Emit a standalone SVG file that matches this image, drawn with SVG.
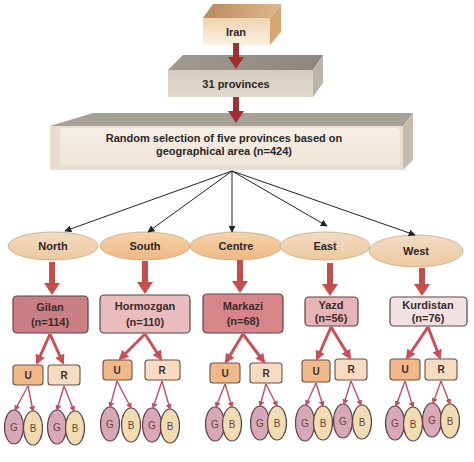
<svg xmlns="http://www.w3.org/2000/svg" xmlns:xlink="http://www.w3.org/1999/xlink" width="474" height="462" viewBox="0 0 474 462">
<defs>
<linearGradient id="gIranF" x1="0" y1="0" x2="0" y2="1"><stop offset="0" stop-color="#f0d4b0"/><stop offset="1" stop-color="#fbf1e4"/></linearGradient>
<linearGradient id="gIranT" x1="0" y1="0" x2="1" y2="0"><stop offset="0" stop-color="#b88a5e"/><stop offset="1" stop-color="#e0b88c"/></linearGradient>
<linearGradient id="gProvF" x1="0" y1="0" x2="0" y2="1"><stop offset="0" stop-color="#d6cdc0"/><stop offset="1" stop-color="#e2dace"/></linearGradient>
<linearGradient id="gProvT" x1="0" y1="0" x2="1" y2="0"><stop offset="0" stop-color="#a29a90"/><stop offset="1" stop-color="#8e867c"/></linearGradient>
<linearGradient id="gRandF" x1="0" y1="0" x2="0" y2="1"><stop offset="0" stop-color="#f6efe6"/><stop offset="1" stop-color="#efe5d8"/></linearGradient>
<linearGradient id="gEll" x1="0" y1="0" x2="0" y2="1"><stop offset="0" stop-color="#f6d2aa"/><stop offset="1" stop-color="#eeb884"/></linearGradient>
<linearGradient id="gEllL" x1="0" y1="0" x2="0" y2="1"><stop offset="0" stop-color="#f4dcc2"/><stop offset="1" stop-color="#ecc8a0"/></linearGradient>
<marker id="mBlack" viewBox="0 0 10 10" refX="9" refY="5" markerWidth="7" markerHeight="7" orient="auto" markerUnits="userSpaceOnUse"><path d="M0,0 L10,5 L0,10 Z" fill="#222"/></marker>
<marker id="mRed" viewBox="0 0 10 10" refX="8" refY="5" markerWidth="10" markerHeight="10" orient="auto" markerUnits="userSpaceOnUse"><path d="M0,0 L10,5 L0,10 Z" fill="#c8505a"/></marker>
<marker id="mRedS" viewBox="0 0 10 10" refX="8" refY="5" markerWidth="6" markerHeight="6" orient="auto" markerUnits="userSpaceOnUse"><path d="M0,0 L10,5 L0,10 Z" fill="#c25060"/></marker>
<path id="bigArrow" d="M-3,-33 L3,-33 L3,-12 L8,-12 L0,0 L-8,-12 L-3,-12 Z"/>
<path id="topArrow" d="M-3,-26 L3,-26 L3,-12 L8,-12 L0,0 L-8,-12 L-3,-12 Z"/>
</defs>
<style>
text{font-family:"Liberation Sans",Arial,sans-serif;text-anchor:middle;}
.t{font-size:11px;font-weight:bold;fill:#2e2626;}
.tp{font-size:11px;font-weight:bold;fill:#3a2c2c;}
.ts{font-size:10px;font-weight:bold;fill:#3a3030;}
.tg{font-size:10px;fill:#6a4444;}
.prov{stroke:#5a4444;stroke-width:1.2;}
.u{fill:#f1b88a;stroke:#6a5046;stroke-width:1.1;}
.r{fill:#f8dcc2;stroke:#6a5046;stroke-width:1.1;}
.g{fill:#d9a8b6;stroke:#5e424a;stroke-width:1.2;}
.b{fill:#f2ddb2;stroke:#5e424a;stroke-width:1.2;}
.ell{stroke:#c8a888;stroke-width:0.8;}
.fan{stroke:#222;stroke-width:1;fill:none;marker-end:url(#mBlack);}
.ra{stroke:#c8505a;stroke-width:3;fill:none;marker-end:url(#mRed);}
.sa{stroke:#c25060;stroke-width:1.4;fill:none;marker-end:url(#mRedS);}
.big{fill:#c44e4a;}
.dk{fill:#a02f2f;}
</style>
<rect width="474" height="462" fill="#ffffff"/>

<g id="iran">
<polygon points="203,18 213,4 281,4 270,18" fill="url(#gIranT)"/>
<polygon points="270,18 281,4 281,32 270,45" fill="#d8a676"/>
<rect x="203" y="18" width="67" height="27" fill="url(#gIranF)"/>
<text class="t" x="236" y="36">Iran</text>
</g>

<g id="provinces31">
<polygon points="168,70 183,55 323,55 313,70" fill="url(#gProvT)"/>
<polygon points="313,70 323,55 323,83 313,97" fill="#bcb4a8"/>
<rect x="168" y="70" width="145" height="27" fill="url(#gProvF)"/>
<text class="t" x="236" y="88">31 provinces</text>
</g>

<g id="random">
<polygon points="50,126 93,113 413,113 403,126" fill="#a8a096"/>
<polygon points="403,126 413,113 413,160 403,170" fill="#c6bcae"/>
<rect x="50" y="126" width="353" height="44" fill="#e8ddd0"/>
<rect x="60" y="128" width="340" height="38" rx="4" fill="url(#gRandF)"/>
<text class="t" x="224" y="142">Random selection of five provinces based on</text>
<text class="t" x="224" y="155">geographical area (n=424)</text>
</g>

<g id="north"><ellipse class="ell" cx="53" cy="246" rx="45" ry="14" fill="url(#gEllL)"/><text class="t" x="53" y="250">North</text></g>
<g id="south"><ellipse class="ell" cx="145" cy="246" rx="45" ry="14" fill="url(#gEll)"/><text class="t" x="145" y="250">South</text></g>
<g id="centre"><ellipse class="ell" cx="236" cy="246" rx="46" ry="14" fill="url(#gEll)"/><text class="t" x="236" y="250">Centre</text></g>
<g id="east"><ellipse class="ell" cx="325" cy="246" rx="45" ry="14" fill="url(#gEllL)"/><text class="t" x="325" y="250">East</text></g>
<g id="west"><ellipse class="ell" cx="416" cy="251" rx="47" ry="16" fill="url(#gEllL)"/><text class="t" x="416" y="255">West</text></g>

<g id="gilan"><rect class="prov" x="13" y="296" width="75" height="37" rx="4" fill="#c97f84"/><text class="tp" x="50" y="311">Gilan</text><text class="tp" x="50" y="326">(n=114)</text></g>
<g id="hormozgan"><rect class="prov" x="100" y="295" width="90" height="38" rx="4" fill="#ebbcbe"/><text class="tp" x="145" y="310">Hormozgan</text><text class="tp" x="145" y="326">(n=110)</text></g>
<g id="markazi"><rect class="prov" x="203" y="294" width="80" height="39" rx="4" fill="#d8858a"/><text class="tp" x="243" y="310">Markazi</text><text class="tp" x="243" y="325">(n=68)</text></g>
<g id="yazd"><rect class="prov" x="305" y="297" width="53" height="29" rx="4" fill="#e9b4b8"/><text class="tp" x="331" y="309">Yazd</text><text class="tp" x="331" y="322">(n=56)</text></g>
<g id="kurdistan"><rect class="prov" x="390" y="297" width="77" height="29" rx="4" fill="#f3e2e3"/><text class="tp" x="428" y="309">Kurdistan</text><text class="tp" x="428" y="322">(n=76)</text></g>

<g id="gilan-u"><rect class="u" x="13" y="365" width="30" height="20" rx="3"/><text class="ts" x="28" y="379">U</text></g>
<g id="gilan-r"><rect class="r" x="48" y="365" width="32" height="20" rx="3"/><text class="ts" x="64" y="379">R</text></g>
<g id="hormozgan-u"><rect class="u" x="103" y="360" width="29" height="20" rx="3"/><text class="ts" x="117" y="374">U</text></g>
<g id="hormozgan-r"><rect class="r" x="145" y="360" width="35" height="20" rx="3"/><text class="ts" x="162" y="374">R</text></g>
<g id="markazi-u"><rect class="u" x="210" y="363" width="30" height="20" rx="3"/><text class="ts" x="225" y="377">U</text></g>
<g id="markazi-r"><rect class="r" x="250" y="363" width="32" height="20" rx="3"/><text class="ts" x="266" y="377">R</text></g>
<g id="yazd-u"><rect class="u" x="302" y="360" width="28" height="22" rx="3"/><text class="ts" x="316" y="375">U</text></g>
<g id="yazd-r"><rect class="r" x="335" y="359" width="32" height="21" rx="3"/><text class="ts" x="351" y="373">R</text></g>
<g id="kurdistan-u"><rect class="u" x="390" y="359" width="30" height="21" rx="3"/><text class="ts" x="405" y="373">U</text></g>
<g id="kurdistan-r"><rect class="r" x="425" y="359" width="32" height="21" rx="3"/><text class="ts" x="441" y="373">R</text></g>

<g id="gilan-leaves">
<ellipse class="g" cx="14" cy="427" rx="9.5" ry="17"/><text class="tg" x="14" y="431">G</text>
<ellipse class="b" cx="33" cy="428" rx="9.5" ry="17"/><text class="tg" x="33" y="432">B</text>
<ellipse class="g" cx="57" cy="427" rx="9.5" ry="17"/><text class="tg" x="57" y="431">G</text>
<ellipse class="b" cx="75" cy="428" rx="9.5" ry="17"/><text class="tg" x="75" y="432">B</text>
</g>
<g id="hormozgan-leaves">
<ellipse class="g" cx="110" cy="424" rx="9.5" ry="17"/><text class="tg" x="110" y="428">G</text>
<ellipse class="b" cx="131" cy="425" rx="9.5" ry="17"/><text class="tg" x="131" y="429">B</text>
<ellipse class="g" cx="152" cy="425" rx="9.5" ry="17"/><text class="tg" x="152" y="429">G</text>
<ellipse class="b" cx="170" cy="426" rx="9.5" ry="17"/><text class="tg" x="170" y="430">B</text>
</g>
<g id="markazi-leaves">
<ellipse class="g" cx="215" cy="424" rx="9.5" ry="17"/><text class="tg" x="215" y="428">G</text>
<ellipse class="b" cx="232" cy="424" rx="9.5" ry="17"/><text class="tg" x="232" y="428">B</text>
<ellipse class="g" cx="260" cy="423" rx="9.5" ry="17"/><text class="tg" x="260" y="427">G</text>
<ellipse class="b" cx="277" cy="423" rx="9.5" ry="17"/><text class="tg" x="277" y="427">B</text>
</g>
<g id="yazd-leaves">
<ellipse class="g" cx="305" cy="423" rx="9.5" ry="18"/><text class="tg" x="305" y="427">G</text>
<ellipse class="b" cx="323" cy="423" rx="9.5" ry="17"/><text class="tg" x="323" y="427">B</text>
<ellipse class="g" cx="343" cy="421" rx="9.5" ry="17"/><text class="tg" x="343" y="425">G</text>
<ellipse class="b" cx="362" cy="422" rx="9.5" ry="17"/><text class="tg" x="362" y="426">B</text>
</g>
<g id="kurdistan-leaves">
<ellipse class="g" cx="395" cy="423" rx="9.5" ry="17"/><text class="tg" x="395" y="427">G</text>
<ellipse class="b" cx="413" cy="424" rx="9.5" ry="17"/><text class="tg" x="413" y="428">B</text>
<ellipse class="g" cx="432" cy="420" rx="9.5" ry="17"/><text class="tg" x="432" y="424">G</text>
<ellipse class="b" cx="450" cy="421" rx="9.5" ry="17"/><text class="tg" x="450" y="425">B</text>
</g>

<g id="connectors">
<use xlink:href="#topArrow" href="#topArrow" class="dk" x="236" y="69"/>
<use xlink:href="#topArrow" href="#topArrow" class="dk" x="236" y="123"/>
<line class="fan" x1="232" y1="171" x2="65" y2="231"/>
<line class="fan" x1="232" y1="171" x2="148" y2="232"/>
<line class="fan" x1="232" y1="171" x2="232" y2="232"/>
<line class="fan" x1="232" y1="171" x2="327" y2="226"/>
<line class="fan" x1="232" y1="171" x2="415" y2="235"/>
<use xlink:href="#bigArrow" href="#bigArrow" class="big" x="52" y="295"/>
<use xlink:href="#bigArrow" href="#bigArrow" class="big" x="145" y="294"/>
<use xlink:href="#bigArrow" href="#bigArrow" class="big" x="240" y="293"/>
<use xlink:href="#bigArrow" href="#bigArrow" class="big" x="330" y="296"/>
<path class="big" d="M419,268 L425,268 L425,284 L430,284 L422,296 L414,284 L419,284 Z"/>
<line class="ra" x1="50" y1="334" x2="37" y2="363"/>
<line class="ra" x1="50" y1="334" x2="63" y2="363"/>
<line class="ra" x1="145" y1="334" x2="120" y2="359"/>
<line class="ra" x1="145" y1="334" x2="161" y2="359"/>
<line class="ra" x1="243" y1="334" x2="226" y2="362"/>
<line class="ra" x1="243" y1="334" x2="264" y2="362"/>
<line class="ra" x1="331" y1="327" x2="317" y2="359"/>
<line class="ra" x1="331" y1="327" x2="350" y2="358"/>
<line class="ra" x1="428" y1="327" x2="407" y2="358"/>
<line class="ra" x1="428" y1="327" x2="440" y2="358"/>
<line class="sa" x1="28" y1="386" x2="15" y2="410"/>
<line class="sa" x1="28" y1="386" x2="33" y2="411"/>
<line class="sa" x1="64" y1="386" x2="57" y2="410"/>
<line class="sa" x1="64" y1="386" x2="74" y2="411"/>
<line class="sa" x1="117" y1="381" x2="110" y2="407"/>
<line class="sa" x1="117" y1="381" x2="131" y2="408"/>
<line class="sa" x1="162" y1="381" x2="153" y2="408"/>
<line class="sa" x1="162" y1="381" x2="170" y2="409"/>
<line class="sa" x1="225" y1="384" x2="216" y2="407"/>
<line class="sa" x1="225" y1="384" x2="232" y2="407"/>
<line class="sa" x1="266" y1="384" x2="260" y2="406"/>
<line class="sa" x1="266" y1="384" x2="277" y2="406"/>
<line class="sa" x1="316" y1="383" x2="306" y2="405"/>
<line class="sa" x1="316" y1="383" x2="323" y2="406"/>
<line class="sa" x1="351" y1="381" x2="344" y2="404"/>
<line class="sa" x1="351" y1="381" x2="361" y2="405"/>
<line class="sa" x1="405" y1="381" x2="396" y2="406"/>
<line class="sa" x1="405" y1="381" x2="413" y2="407"/>
<line class="sa" x1="441" y1="381" x2="433" y2="403"/>
<line class="sa" x1="441" y1="381" x2="450" y2="404"/>
</g>
</svg>
